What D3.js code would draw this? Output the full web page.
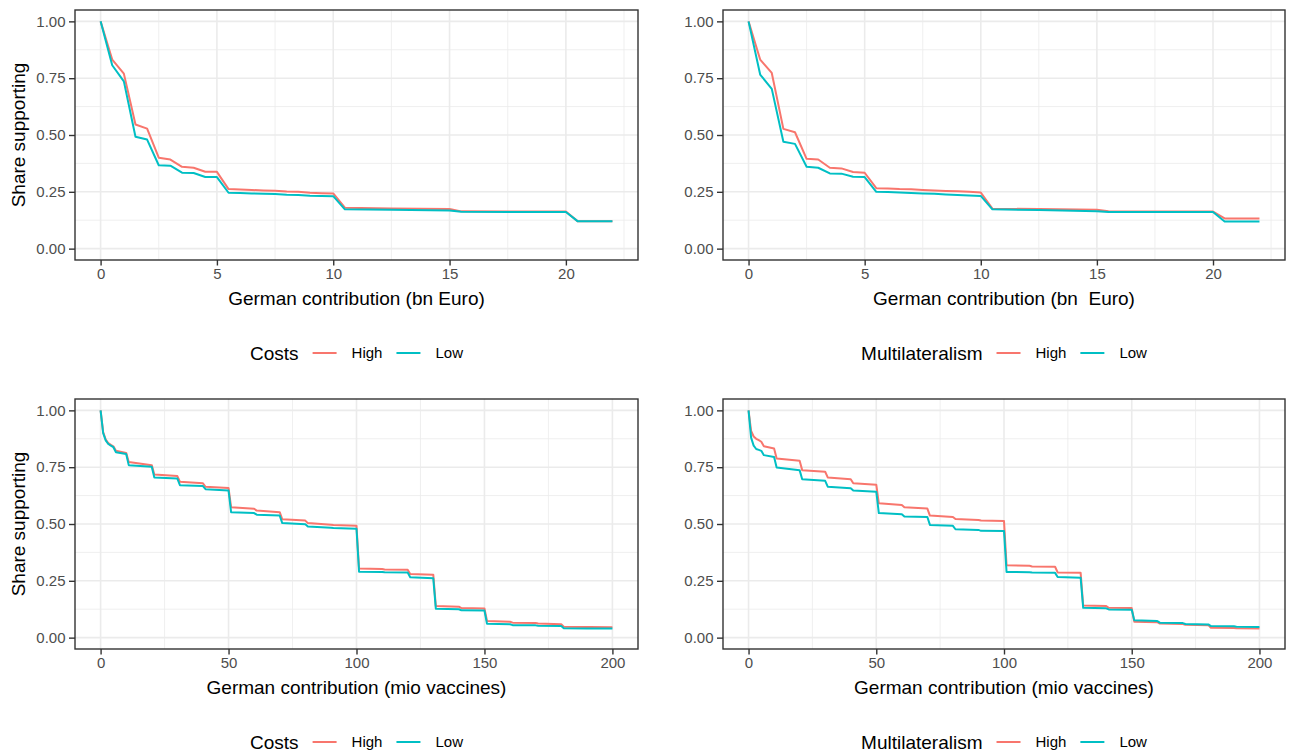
<!DOCTYPE html>
<html>
<head>
<meta charset="utf-8">
<script src="https://cdn.jsdelivr.net/npm/d3@7"></script>
<style>
  body { margin: 0; background: #fff; }
  svg { display: block; }
  text { font-family: "Liberation Sans", Arial, Helvetica, sans-serif; white-space: pre; }
</style>
</head>
<body>
<svg id="chart" width="1292" height="753"></svg>
<script>
// ---- data ----
// top row: contribution in bn Euro
var bnEuro = [0, 0.5, 1, 1.5, 2, 2.5, 3, 3.5, 4, 4.5, 5, 5.5, 6, 6.5, 7, 7.5, 8, 8.5, 9, 9.5, 10,
              10.5, 12.5, 15, 15.5, 20, 20.5, 22];
var costsHighBn = [1.0, 0.832, 0.770, 0.546, 0.528, 0.400, 0.392, 0.360, 0.356, 0.338, 0.338, 0.262, 0.260, 0.258,
                   0.256, 0.255, 0.251, 0.250, 0.246, 0.244, 0.243, 0.180, 0.177, 0.174, 0.164, 0.163, 0.121, 0.121];
var costsLowBn  = [1.0, 0.807, 0.736, 0.492, 0.480, 0.367, 0.365, 0.334, 0.333, 0.315, 0.315, 0.246, 0.245, 0.243,
                   0.241, 0.240, 0.237, 0.236, 0.233, 0.232, 0.231, 0.173, 0.171, 0.168, 0.162, 0.161, 0.121, 0.121];
var multiHighBn = [1.0, 0.832, 0.773, 0.527, 0.512, 0.395, 0.392, 0.356, 0.353, 0.337, 0.334, 0.266, 0.265, 0.262,
                   0.261, 0.258, 0.256, 0.254, 0.252, 0.250, 0.247, 0.176, 0.174, 0.171, 0.165, 0.163, 0.133, 0.133];
var multiLowBn  = [1.0, 0.766, 0.703, 0.470, 0.461, 0.360, 0.356, 0.331, 0.330, 0.316, 0.315, 0.250, 0.249, 0.247,
                   0.245, 0.243, 0.241, 0.238, 0.236, 0.234, 0.232, 0.173, 0.170, 0.165, 0.161, 0.161, 0.119, 0.119];

// bottom row: contribution in mio vaccines
var mioVacc = [0, 1, 2, 3, 4, 5, 6, 10, 11, 20, 21, 30, 31, 40, 41, 50, 51, 60, 61, 70, 71, 80, 81, 90, 91,
               100, 101, 110, 111, 120, 121, 130, 131, 140, 141, 150, 151, 160, 161, 170, 171, 180, 181, 190, 191, 200];
var costsHighVac = [1.0, 0.905, 0.872, 0.856, 0.848, 0.842, 0.822, 0.813, 0.773, 0.759, 0.718, 0.711, 0.686, 0.679,
                    0.664, 0.658, 0.574, 0.567, 0.559, 0.552, 0.521, 0.515, 0.504, 0.497, 0.496, 0.492, 0.304, 0.302,
                    0.300, 0.299, 0.280, 0.277, 0.139, 0.136, 0.130, 0.128, 0.073, 0.070, 0.066, 0.064, 0.062, 0.059,
                    0.048, 0.047, 0.047, 0.046];
var costsLowVac  = [1.0, 0.900, 0.868, 0.852, 0.845, 0.838, 0.816, 0.808, 0.759, 0.752, 0.705, 0.700, 0.671, 0.667,
                    0.653, 0.647, 0.552, 0.548, 0.541, 0.537, 0.504, 0.499, 0.489, 0.483, 0.482, 0.479, 0.290, 0.289,
                    0.288, 0.287, 0.266, 0.261, 0.127, 0.125, 0.120, 0.119, 0.061, 0.059, 0.055, 0.054, 0.052, 0.051,
                    0.041, 0.040, 0.040, 0.040];
var multiHighVac = [1.0, 0.910, 0.885, 0.875, 0.869, 0.862, 0.842, 0.832, 0.788, 0.778, 0.737, 0.730, 0.705, 0.697,
                    0.679, 0.673, 0.591, 0.584, 0.574, 0.568, 0.537, 0.531, 0.522, 0.518, 0.515, 0.513, 0.318, 0.316,
                    0.313, 0.312, 0.287, 0.285, 0.141, 0.139, 0.131, 0.130, 0.070, 0.068, 0.062, 0.060, 0.057, 0.055,
                    0.043, 0.042, 0.041, 0.040];
var multiLowVac  = [1.0, 0.880, 0.845, 0.830, 0.826, 0.822, 0.803, 0.795, 0.749, 0.737, 0.697, 0.690, 0.664, 0.657,
                    0.647, 0.642, 0.548, 0.543, 0.533, 0.531, 0.496, 0.492, 0.477, 0.474, 0.470, 0.469, 0.289, 0.288,
                    0.287, 0.285, 0.267, 0.264, 0.131, 0.129, 0.124, 0.123, 0.076, 0.073, 0.066, 0.064, 0.060, 0.058,
                    0.051, 0.050, 0.048, 0.047];

var levels = ["High", "Low"];
var yTicks = [0, 0.25, 0.5, 0.75, 1];
var yMinor = [0.125, 0.375, 0.625, 0.875];
var bnTicks = [0, 5, 10, 15, 20];
var bnMinor = [2.5, 7.5, 12.5, 17.5, 22.5];
var vacTicks = [0, 50, 100, 150, 200];
var vacMinor = [25, 75, 125, 175];

// ---- look ----
var colors = { High: "#F8766D", Low: "#00BFC4" };
var gridCol = "#EBEBEB";
var borderCol = "#333333";
var tickTextCol = "#4D4D4D";
var TITLE_SIZE = 19, TICK_SIZE = 15;

var svg = d3.select("#chart");

var panels = [
  { left: 75, top: 10, right: 638, bottom: 260, xs: bnEuro, xmax: 22, ticks: bnTicks, minor: bnMinor,
    series: { High: costsHighBn, Low: costsLowBn }, xTitle: "German contribution (bn Euro)", yTitle: true, legend: "Costs" },
  { left: 723, top: 10, right: 1285, bottom: 260, xs: bnEuro, xmax: 22, ticks: bnTicks, minor: bnMinor,
    series: { High: multiHighBn, Low: multiLowBn }, xTitle: "German contribution (bn  Euro)", yTitle: false, legend: "Multilateralism" },
  { left: 75, top: 399, right: 638, bottom: 649, xs: mioVacc, xmax: 200, ticks: vacTicks, minor: vacMinor,
    series: { High: costsHighVac, Low: costsLowVac }, xTitle: "German contribution (mio vaccines)", yTitle: true, legend: "Costs" },
  { left: 723, top: 399, right: 1285, bottom: 649, xs: mioVacc, xmax: 200, ticks: vacTicks, minor: vacMinor,
    series: { High: multiHighVac, Low: multiLowVac }, xTitle: "German contribution (mio vaccines)", yTitle: false, legend: "Multilateralism" }
];

function drawPanel(p) {
  var pad = p.xmax * 0.05;
  var x = d3.scaleLinear().domain([-pad, p.xmax + pad]).range([p.left, p.right]);
  var y = d3.scaleLinear().domain([-0.05, 1.05]).range([p.bottom, p.top]);
  var g = svg.append("g");

  // grid
  g.selectAll(".ymin").data(yMinor).enter().append("line")
    .attr("x1", p.left).attr("x2", p.right).attr("y1", y).attr("y2", y)
    .attr("stroke", gridCol).attr("stroke-width", 0.8);
  g.selectAll(".xmin").data(p.minor).enter().append("line")
    .attr("y1", p.top).attr("y2", p.bottom).attr("x1", x).attr("x2", x)
    .attr("stroke", gridCol).attr("stroke-width", 0.8);
  g.selectAll(".ymaj").data(yTicks).enter().append("line")
    .attr("x1", p.left).attr("x2", p.right).attr("y1", y).attr("y2", y)
    .attr("stroke", gridCol).attr("stroke-width", 1.6);
  g.selectAll(".xmaj").data(p.ticks).enter().append("line")
    .attr("y1", p.top).attr("y2", p.bottom).attr("x1", x).attr("x2", x)
    .attr("stroke", gridCol).attr("stroke-width", 1.6);

  // lines, High first then Low on top
  var line = d3.line().x(function(d) { return x(d[0]); }).y(function(d) { return y(d[1]); });
  levels.forEach(function(lv) {
    var pts = p.xs.map(function(v, i) { return [v, p.series[lv][i]]; });
    g.append("path").datum(pts).attr("d", line)
      .attr("fill", "none").attr("stroke", colors[lv]).attr("stroke-width", 2)
      .attr("stroke-linejoin", "round");
  });

  // border
  g.append("rect").attr("x", p.left).attr("y", p.top)
    .attr("width", p.right - p.left).attr("height", p.bottom - p.top)
    .attr("fill", "none").attr("stroke", borderCol).attr("stroke-width", 1.4);

  // axes
  var ax = g.append("g").attr("transform", "translate(0," + p.bottom + ")")
    .call(d3.axisBottom(x).tickValues(p.ticks).tickFormat(d3.format("d")).tickSize(5.5).tickPadding(2.5));
  var ay = g.append("g").attr("transform", "translate(" + p.left + ",0)")
    .call(d3.axisLeft(y).tickValues(yTicks).tickFormat(d3.format(".2f")).tickSize(6).tickPadding(3.5));
  [ax, ay].forEach(function(a) {
    a.select(".domain").remove();
    a.selectAll(".tick line").attr("stroke", borderCol).attr("stroke-width", 1.4);
    a.selectAll(".tick text").attr("fill", tickTextCol).style("font-size", TICK_SIZE + "px")
      .style("font-family", '"Liberation Sans", Arial, sans-serif');
  });

  var cx = (p.left + p.right) / 2;
  g.append("text").attr("x", cx).attr("y", p.bottom + 38).attr("dy", "0.35em")
    .attr("text-anchor", "middle").style("font-size", TITLE_SIZE + "px").attr("fill", "#000")
    .text(p.xTitle);

  if (p.yTitle) {
    var cy = (p.top + p.bottom) / 2;
    g.append("text").attr("transform", "translate(18.5," + cy + ") rotate(-90)").attr("dy", "0.35em")
      .attr("text-anchor", "middle").style("font-size", TITLE_SIZE + "px").attr("fill", "#000")
      .text("Share supporting");
  }

  // legend, centred under the panel
  var lg = g.append("g");
  var ly = p.bottom + 93;
  var cur = 0;
  var t = lg.append("text").attr("x", cur).attr("y", ly).attr("dy", "0.35em")
    .style("font-size", TITLE_SIZE + "px").attr("fill", "#000").text(p.legend);
  cur += t.node().getComputedTextLength() + 14;
  levels.forEach(function(lv, i) {
    lg.append("line").attr("x1", cur).attr("x2", cur + 24).attr("y1", ly).attr("y2", ly)
      .attr("stroke", colors[lv]).attr("stroke-width", 2);
    cur += 24 + 15;
    var lt = lg.append("text").attr("x", cur).attr("y", ly).attr("dy", "0.35em")
      .style("font-size", TICK_SIZE + "px").attr("fill", "#000").text(lv);
    cur += lt.node().getComputedTextLength();
    if (i < levels.length - 1) cur += 14;
  });
  lg.attr("transform", "translate(" + (cx - cur / 2) + ",0)");
}

panels.forEach(drawPanel);
</script>
</body>
</html>
